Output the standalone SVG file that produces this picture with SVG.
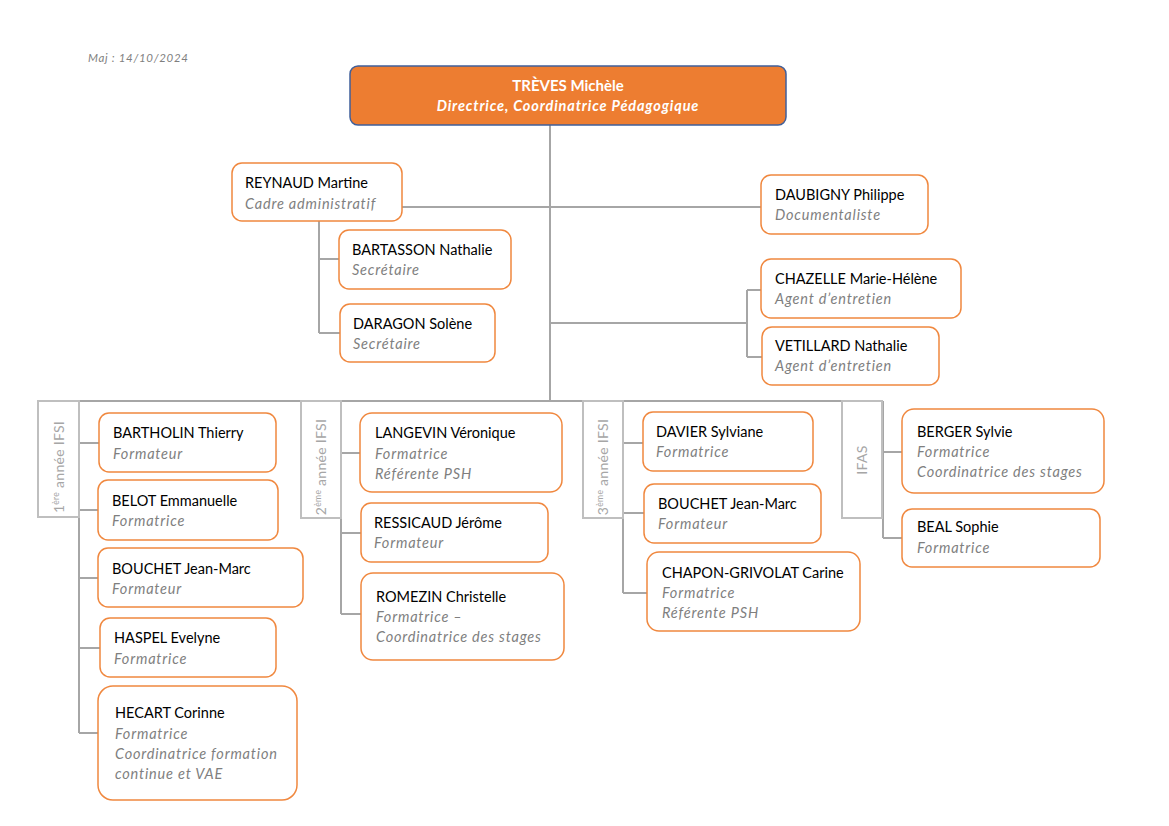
<svg xmlns="http://www.w3.org/2000/svg" width="1169" height="826" viewBox="0 0 1169 826">
<style>
.bg{fill:#ffffff}
.node{fill:#ffffff;stroke:#F0883F;stroke-width:1.5}
.nm{font-family:Lato,"Liberation Sans",sans-serif;font-size:14.5px;fill:#000000}
.rl{font-family:Lato,"Liberation Sans",sans-serif;font-size:14.5px;font-style:italic;fill:#7F7F7F;letter-spacing:0.8px}
.con{fill:none;stroke:#A6A6A6;stroke-width:2}
.grp{fill:#ffffff;stroke:#BFBFBF;stroke-width:2}
.gl{font-family:Lato,"Liberation Sans",sans-serif;font-size:14px;fill:#A6A6A6;letter-spacing:0.3px}
.top{fill:#ED7D31;stroke:#3F5F9A;stroke-width:1.5}
.tn{font-family:Lato,"Liberation Sans",sans-serif;font-size:15px;font-weight:bold;fill:#ffffff}
.tr{font-family:Lato,"Liberation Sans",sans-serif;font-size:14.5px;font-weight:bold;font-style:italic;fill:#ffffff;letter-spacing:0.85px}
.date{font-family:Lato,"Liberation Sans",sans-serif;font-size:11.5px;font-style:italic;fill:#7F7F7F;letter-spacing:0.7px}
</style>
<rect class="bg" width="1169" height="826"/>
<text class="date" x="88" y="62">Maj : 14/10/2024</text>

<g id="connectors">
<path class="con" d="M550,125 V401"/>
<path class="con" d="M402,207 H761"/>
<path class="con" d="M319,221 V333 M319,259 H339 M319,333 H340"/>
<path class="con" d="M550,323 H747 M747,290 V357 M747,290 H761 M747,357 H762"/>
<path class="con" d="M38,401 H883"/>
<path class="con" d="M79,401 V733 M79,443 H99 M79,510 H98 M79,578 H98 M79,648 H100 M79,733 H98"/>
<path class="con" d="M341,401 V614 M341,453 H360 M341,533 H361 M341,614 H361"/>
<path class="con" d="M623,401 V593 M623,443 H643 M623,513 H644 M623,593 H647"/>
<path class="con" d="M883,401 V538 M883,452 H902 M883,538 H902"/>
</g>

<g id="group-1A">
<rect class="grp" x="38" y="401" width="41" height="116"/>
<text class="gl" transform="translate(64,467) rotate(-90)" text-anchor="middle">1<tspan font-size="8.5" dy="-5">ère</tspan><tspan dy="5"> année IFSI</tspan></text>
</g>
<g id="group-2A">
<rect class="grp" x="301" y="401" width="40" height="117"/>
<text class="gl" transform="translate(326,467) rotate(-90)" text-anchor="middle">2<tspan font-size="8.5" dy="-5">ème</tspan><tspan dy="5"> année IFSI</tspan></text>
</g>
<g id="group-3A">
<rect class="grp" x="583" y="401" width="40" height="117"/>
<text class="gl" transform="translate(608,467) rotate(-90)" text-anchor="middle">3<tspan font-size="8.5" dy="-5">ème</tspan><tspan dy="5"> année IFSI</tspan></text>
</g>
<g id="group-IFAS">
<rect class="grp" x="842" y="401" width="40" height="117"/>
<text class="gl" transform="translate(867,460) rotate(-90)" text-anchor="middle">IFAS</text>
</g>

<g id="treves">
<rect class="top" x="350" y="66" width="436" height="59" rx="8"/>
<text class="tn" x="568" y="91" text-anchor="middle">TRÈVES Michèle</text>
<text class="tr" x="568" y="111" text-anchor="middle">Directrice, Coordinatrice Pédagogique</text>
</g>

<g id="reynaud">
<rect class="node" x="232" y="163" width="170" height="58" rx="10"/>
<text class="nm" x="245" y="188">REYNAUD Martine</text>
<text class="rl" x="245" y="209">Cadre administratif</text>
</g>
<g id="daubigny">
<rect class="node" x="761" y="175" width="167" height="59" rx="10"/>
<text class="nm" x="775" y="200">DAUBIGNY Philippe</text>
<text class="rl" x="775" y="220">Documentaliste</text>
</g>
<g id="bartasson">
<rect class="node" x="339" y="230" width="172" height="59" rx="10"/>
<text class="nm" x="352" y="255">BARTASSON Nathalie</text>
<text class="rl" x="352" y="275">Secrétaire</text>
</g>
<g id="daragon">
<rect class="node" x="340" y="304" width="155" height="58" rx="10"/>
<text class="nm" x="353" y="329">DARAGON Solène</text>
<text class="rl" x="353" y="349">Secrétaire</text>
</g>
<g id="chazelle">
<rect class="node" x="761" y="259" width="200" height="59" rx="10"/>
<text class="nm" x="775" y="284">CHAZELLE Marie-Hélène</text>
<text class="rl" x="775" y="304">Agent d’entretien</text>
</g>
<g id="vetillard">
<rect class="node" x="762" y="327" width="177" height="58" rx="10"/>
<text class="nm" x="775" y="351">VETILLARD Nathalie</text>
<text class="rl" x="775" y="371">Agent d’entretien</text>
</g>

<g id="bartholin">
<rect class="node" x="99" y="413" width="177" height="59" rx="10"/>
<text class="nm" x="113" y="438">BARTHOLIN Thierry</text>
<text class="rl" x="113" y="459">Formateur</text>
</g>
<g id="belot">
<rect class="node" x="98" y="480" width="180" height="60" rx="10"/>
<text class="nm" x="112" y="506">BELOT Emmanuelle</text>
<text class="rl" x="112" y="526">Formatrice</text>
</g>
<g id="bouchet1">
<rect class="node" x="98" y="548" width="205" height="59" rx="10"/>
<text class="nm" x="112" y="574">BOUCHET Jean-Marc</text>
<text class="rl" x="112" y="594">Formateur</text>
</g>
<g id="haspel">
<rect class="node" x="100" y="618" width="176" height="59" rx="10"/>
<text class="nm" x="114" y="643">HASPEL Evelyne</text>
<text class="rl" x="114" y="664">Formatrice</text>
</g>
<g id="hecart">
<rect class="node" x="98" y="686" width="199" height="114" rx="15"/>
<text class="nm" x="115" y="718">HECART Corinne</text>
<text class="rl" x="115" y="739">Formatrice</text>
<text class="rl" x="115" y="759">Coordinatrice formation</text>
<text class="rl" x="115" y="779">continue et VAE</text>
</g>

<g id="langevin">
<rect class="node" x="360" y="413" width="202" height="79" rx="12"/>
<text class="nm" x="375" y="438">LANGEVIN Véronique</text>
<text class="rl" x="375" y="459">Formatrice</text>
<text class="rl" x="375" y="479">Référente PSH</text>
</g>
<g id="ressicaud">
<rect class="node" x="361" y="503" width="187" height="59" rx="10"/>
<text class="nm" x="374" y="528">RESSICAUD Jérôme</text>
<text class="rl" x="374" y="548">Formateur</text>
</g>
<g id="romezin">
<rect class="node" x="361" y="573" width="203" height="87" rx="12"/>
<text class="nm" x="376" y="602">ROMEZIN Christelle</text>
<text class="rl" x="376" y="622">Formatrice –</text>
<text class="rl" x="376" y="642">Coordinatrice des stages</text>
</g>

<g id="davier">
<rect class="node" x="643" y="412" width="170" height="59" rx="10"/>
<text class="nm" x="656" y="437">DAVIER Sylviane</text>
<text class="rl" x="656" y="457">Formatrice</text>
</g>
<g id="bouchet2">
<rect class="node" x="644" y="484" width="177" height="59" rx="10"/>
<text class="nm" x="658" y="509">BOUCHET Jean-Marc</text>
<text class="rl" x="658" y="529">Formateur</text>
</g>
<g id="chapon">
<rect class="node" x="647" y="552" width="213" height="79" rx="12"/>
<text class="nm" x="662" y="578">CHAPON-GRIVOLAT Carine</text>
<text class="rl" x="662" y="598">Formatrice</text>
<text class="rl" x="662" y="618">Référente PSH</text>
</g>

<g id="berger">
<rect class="node" x="902" y="409" width="202" height="84" rx="12"/>
<text class="nm" x="917" y="437">BERGER Sylvie</text>
<text class="rl" x="917" y="457">Formatrice</text>
<text class="rl" x="917" y="477">Coordinatrice des stages</text>
</g>
<g id="beal">
<rect class="node" x="902" y="509" width="198" height="58" rx="10"/>
<text class="nm" x="917" y="532">BEAL Sophie</text>
<text class="rl" x="917" y="553">Formatrice</text>
</g>
</svg>
